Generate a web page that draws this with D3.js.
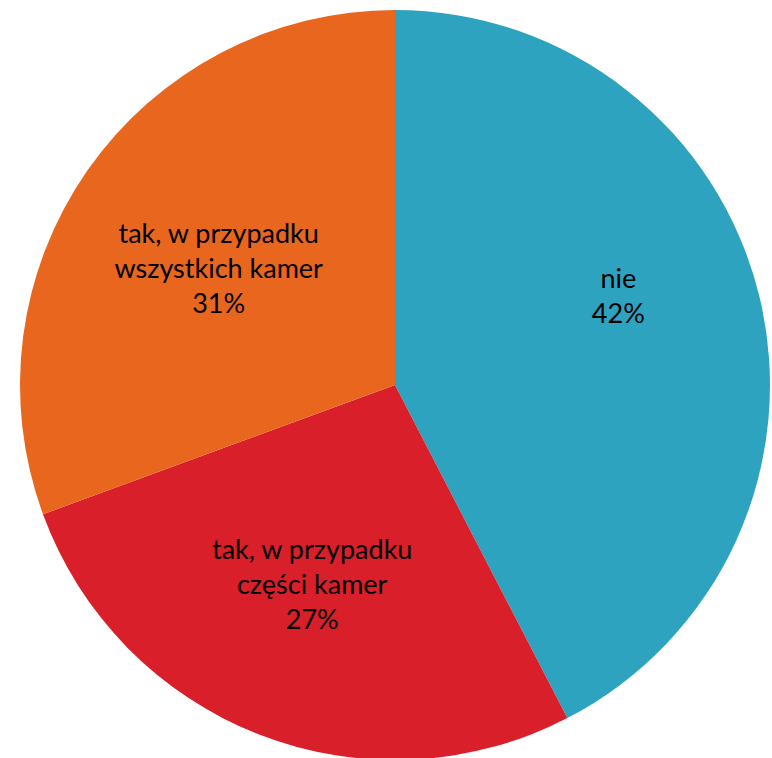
<!DOCTYPE html>
<html>
<head>
<meta charset="utf-8">
<script src="https://cdn.jsdelivr.net/npm/d3@7"></script>
<style>
  html, body { margin: 0; padding: 0; background: #fff; }
  svg { display: block; }
</style>
</head>
<body>
<svg id="chart" width="772" height="758"></svg>
<script>
const categories = ["nie", "tak, w przypadku części kamer", "tak, w przypadku wszystkich kamer"];
const labelLines = [["nie"], ["tak, w przypadku", "części kamer"], ["tak, w przypadku", "wszystkich kamer"]];
const values = [42.4, 27.0, 30.6];
const colors = ["#2EA3BF", "#D91F2A", "#E8661E"];

const W = 772, H = 758;
const cx = 395, cy = 385, R = 375;
const fontSize = 27, lineH = 35;
// small layout nudges for data labels (best-fit placement like the original)
const labelNudge = [[12, -38], [-4, -3], [2, 8]];

const svg = d3.select("#chart");
const g = svg.append("g").attr("transform", `translate(${cx},${cy})`);

const data = categories.map((c, i) => ({ cat: c, value: values[i], lines: labelLines[i], color: colors[i], idx: i }));
const total = d3.sum(values);

const pie = d3.pie().value(d => d.value).sort(null).startAngle(0).endAngle(2 * Math.PI);
const arc = d3.arc().innerRadius(0).outerRadius(R);
const labelArc = d3.arc().innerRadius(R * 0.58).outerRadius(R * 0.58);

const arcs = pie(data);

g.selectAll("path.slice").data(arcs).join("path")
  .attr("class", "slice")
  .attr("d", arc)
  .attr("fill", d => d.data.color);

const labels = g.selectAll("text.lbl").data(arcs).join("text")
  .attr("class", "lbl")
  .attr("text-anchor", "middle")
  .attr("font-family", "Lato, 'Open Sans', sans-serif")
  .attr("font-size", fontSize)
  .attr("fill", "#000")
  .attr("transform", d => {
    const [x, y] = labelArc.centroid(d);
    const [nx, ny] = labelNudge[d.data.idx];
    return `translate(${x + nx},${y + ny})`;
  });

labels.each(function(d) {
  const lines = d.data.lines.concat([Math.round(d.data.value / total * 100) + "%"]);
  const n = lines.length;
  d3.select(this).selectAll("tspan").data(lines).join("tspan")
    .attr("x", 0)
    .attr("y", (l, i) => (i - (n - 1) / 2) * lineH)
    .attr("dy", "0.35em")
    .text(l => l);
});
</script>
</body>
</html>
